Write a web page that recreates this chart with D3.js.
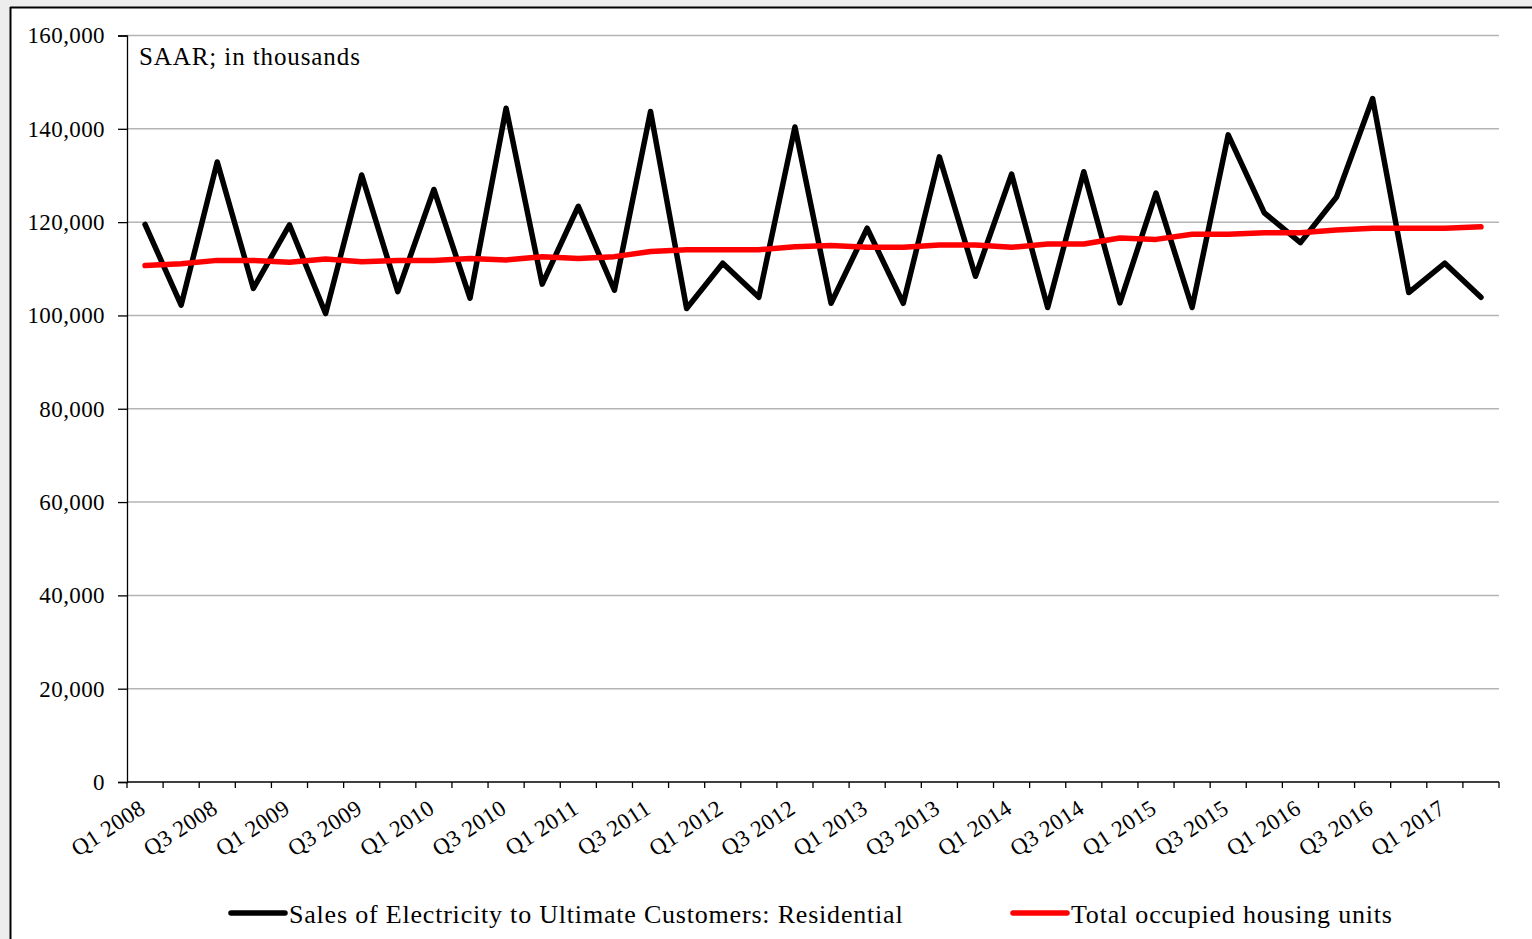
<!DOCTYPE html>
<html>
<head>
<meta charset="utf-8">
<script src="https://cdn.jsdelivr.net/npm/d3@7"></script>
<style>
  html, body { margin: 0; padding: 0; background: #ededed; }
  svg { display: block; }
  text { font-family: "Liberation Serif", "Times New Roman", serif; fill: #000; }
</style>
</head>
<body>
<svg id="chart" width="1532" height="939"></svg>
<script>
const categories = ["Q1 2008","Q2 2008","Q3 2008","Q4 2008","Q1 2009","Q2 2009","Q3 2009","Q4 2009",
  "Q1 2010","Q2 2010","Q3 2010","Q4 2010","Q1 2011","Q2 2011","Q3 2011","Q4 2011",
  "Q1 2012","Q2 2012","Q3 2012","Q4 2012","Q1 2013","Q2 2013","Q3 2013","Q4 2013",
  "Q1 2014","Q2 2014","Q3 2014","Q4 2014","Q1 2015","Q2 2015","Q3 2015","Q4 2015",
  "Q1 2016","Q2 2016","Q3 2016","Q4 2016","Q1 2017","Q2 2017"];
const xTickLabels = ["Q1 2008","Q3 2008","Q1 2009","Q3 2009","Q1 2010","Q3 2010","Q1 2011","Q3 2011",
  "Q1 2012","Q3 2012","Q1 2013","Q3 2013","Q1 2014","Q3 2014","Q1 2015","Q3 2015",
  "Q1 2016","Q3 2016","Q1 2017"];
const electricitySales = [119500, 102200, 132900, 105800, 119400, 100400, 130100, 105100,
  127000, 103700, 144400, 106700, 123400, 105400, 143700, 101500,
  111200, 103900, 140400, 102600, 118700, 102600, 134000, 108400,
  130300, 101700, 130800, 102700, 126200, 101700, 138700, 122000,
  115600, 125400, 146500, 104900, 111200, 103900];
const housingUnits = [110700, 111100, 111800, 111800, 111400, 112100, 111500, 111800,
  111800, 112200, 111900, 112600, 112200, 112600, 113700, 114100,
  114100, 114100, 114700, 115000, 114600, 114600, 115100, 115100,
  114600, 115300, 115300, 116600, 116300, 117400, 117400, 117700,
  117700, 118300, 118700, 118700, 118700, 119000];
const yTicks = [0, 20000, 40000, 60000, 80000, 100000, 120000, 140000, 160000];
const seriesNames = ["Sales of Electricity to Ultimate Customers: Residential", "Total occupied housing units"];
const seriesColors = ["#000000", "#ff0000"];
const annotation = "SAAR; in thousands";

const svg = d3.select("#chart");

// panel (white area with black top/left border)
svg.append("rect").attr("x", 10).attr("y", 7).attr("width", 1540).attr("height", 960)
  .attr("fill", "#fff");
svg.append("line").attr("x1", 10).attr("x2", 1532).attr("y1", 7.5).attr("y2", 7.5)
  .attr("stroke", "#000").attr("stroke-width", 2);
svg.append("line").attr("x1", 10.5).attr("x2", 10.5).attr("y1", 7).attr("y2", 939)
  .attr("stroke", "#000").attr("stroke-width", 2);

const plotLeft = 127, plotRight = 1499, plotTop = 35.5, plotBottom = 782;

const x = d3.scaleBand().domain(categories).range([plotLeft, plotRight]).padding(0);
const cx = d => x(d) + x.bandwidth() / 2;
const y = d3.scaleLinear().domain([0, 160000]).range([plotBottom, plotTop]);

// gridlines
svg.append("g").selectAll("line").data(yTicks.filter(v => v > 0)).join("line")
  .attr("x1", plotLeft).attr("x2", plotRight)
  .attr("y1", d => y(d)).attr("y2", d => y(d))
  .attr("stroke", "#b4b4b4").attr("stroke-width", 1.5);

// y axis
const yAxis = d3.axisLeft(y).tickValues(yTicks).tickSize(9).tickPadding(13)
  .tickFormat(d3.format(","));
const gy = svg.append("g").attr("transform", `translate(${plotLeft},0)`).call(yAxis);
gy.attr("font-family", null).attr("font-size", null);
gy.select(".domain").attr("stroke", "#000").attr("stroke-width", 1.3);
gy.selectAll(".tick line").attr("stroke", "#000").attr("stroke-width", 1.3);
gy.selectAll(".tick text").style("font-size", "23px").style("letter-spacing", "0.4px")
  .attr("fill", "#000");

// x axis
svg.append("line").attr("x1", plotLeft).attr("x2", plotRight).attr("y1", plotBottom).attr("y2", plotBottom)
  .attr("stroke", "#000").attr("stroke-width", 1.5);
const boundaries = categories.map(c => x(c)).concat([x(categories[categories.length - 1]) + x.bandwidth()]);
svg.append("g").selectAll("line").data(boundaries).join("line")
  .attr("x1", d => d).attr("x2", d => d).attr("y1", plotBottom).attr("y2", plotBottom + 6)
  .attr("stroke", "#000").attr("stroke-width", 1.3);
svg.append("g").selectAll("text").data(xTickLabels).join("text")
  .attr("transform", d => `translate(${cx(d) + 2},${plotBottom + 30}) rotate(-33)`)
  .attr("text-anchor", "end")
  .style("font-size", "23px")
  .style("letter-spacing", "0.4px")
  .text(d => d);

// annotation
svg.append("text").attr("x", 139).attr("y", 65).style("font-size", "25px")
  .style("letter-spacing", "0.9px").text(annotation);

// lines
const line = d3.line().x((d, i) => cx(categories[i])).y(d => y(d));
svg.append("path").datum(electricitySales).attr("d", line)
  .attr("fill", "none").attr("stroke", seriesColors[0]).attr("stroke-width", 5.5)
  .attr("stroke-linejoin", "round").attr("stroke-linecap", "round");
svg.append("path").datum(housingUnits).attr("d", line)
  .attr("fill", "none").attr("stroke", seriesColors[1]).attr("stroke-width", 5.5)
  .attr("stroke-linejoin", "round").attr("stroke-linecap", "round");

// legend
const legendItems = [{ x: 231, name: seriesNames[0], color: seriesColors[0] },
                     { x: 1013, name: seriesNames[1], color: seriesColors[1] }];
const lg = svg.append("g").selectAll("g").data(legendItems).join("g")
  .attr("transform", d => `translate(${d.x},913)`);
lg.append("line").attr("x1", 0).attr("x2", 54).attr("y1", 0).attr("y2", 0)
  .attr("stroke", d => d.color).attr("stroke-width", 5.5).attr("stroke-linecap", "round");
lg.append("text").attr("x", 58).attr("y", 10).style("font-size", "26px")
  .style("letter-spacing", "0.8px").text(d => d.name);
</script>
</body>
</html>
